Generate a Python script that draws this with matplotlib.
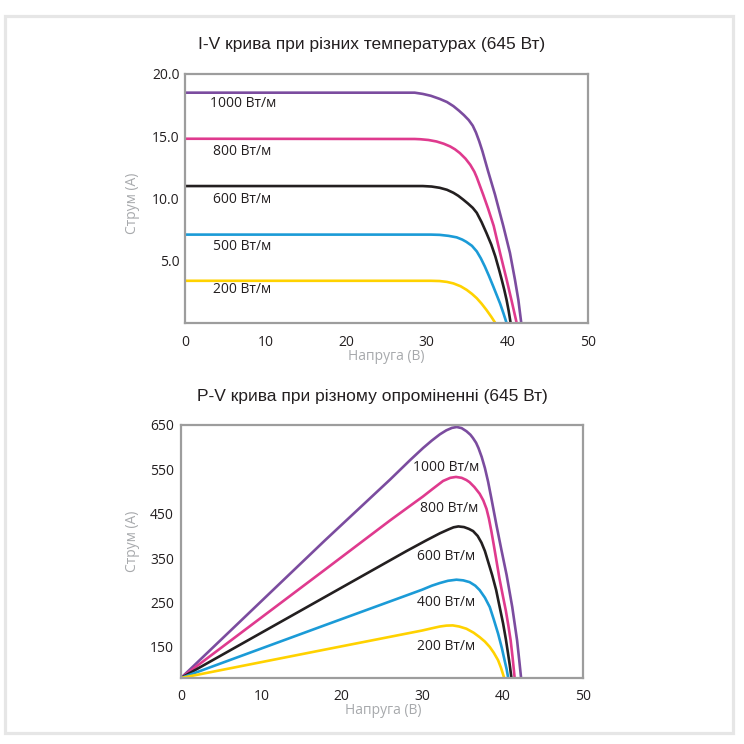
import matplotlib
matplotlib.use("Agg")
import matplotlib.pyplot as plt
from matplotlib.patches import Rectangle

# ---------------- data ----------------
iv_titles = "I-V крива при різних температурах (645 Вт)"
pv_titles = "P-V крива при різному опроміненні (645 Вт)"
x_label = "Напруга (В)"
y_label = "Струм (А)"

x_ticks = [0, 10, 20, 30, 40, 50]
iv_y_ticks = [5, 10, 15, 20]
iv_y_ticklabels = ["5.0", "10.0", "15.0", "20.0"]
pv_y_ticks = [150, 250, 350, 450, 550, 650]

iv_labels = ["1000 Вт/м", "800 Вт/м", "600 Вт/м", "500 Вт/м", "200 Вт/м"]
pv_labels = ["1000 Вт/м", "800 Вт/м", "600 Вт/м", "400 Вт/м", "200 Вт/м"]
colors = ["#7b4c9f", "#df3a8e", "#231f20", "#1b9bd7", "#ffd200"]

iv_v_1000 = [0, 28.5, 29.5, 30.5, 31.6, 32.5, 33.3, 34.0, 34.6, 35.2, 35.7, 36.1, 36.5, 36.9,
             37.6, 38.46, 39.5, 40.32, 40.94, 41.36, 41.72]
iv_i_1000 = [18.5, 18.5, 18.4, 18.25, 18.0, 17.75, 17.42, 17.05, 16.7, 16.3, 15.85, 15.3, 14.6, 13.8,
             12.2, 10.32, 7.77, 5.62, 3.47, 1.85, 0]
iv_v_800 = [0, 28.5, 29.2, 30.2, 31.2, 32.1, 32.9, 33.5, 34.1, 34.8, 35.4, 35.9, 36.2, 36.6,
            37.0, 37.6, 38.3, 39.1, 39.9, 40.5, 41.15]
iv_i_800 = [14.8, 14.78, 14.76, 14.7, 14.58, 14.4, 14.18, 13.95, 13.65, 13.2, 12.7, 12.15, 11.7, 11.0,
            10.3, 9.2, 7.8, 5.6, 3.5, 1.85, 0]
iv_v_600 = [0, 29.5, 30.6, 31.6, 32.5, 33.3, 33.9, 34.5, 35.1, 35.7, 36.2, 36.8, 37.4, 38.0,
            38.5, 39.0, 39.3, 39.6, 39.9, 40.15, 40.4]
iv_i_600 = [11.0, 11.0, 10.96, 10.86, 10.7, 10.46, 10.22, 9.92, 9.6, 9.25, 8.85, 8.1, 7.23, 6.3,
            5.35, 4.2, 3.47, 2.7, 1.85, 1.0, 0]
iv_v_500 = [0, 30.5, 31.6, 32.7, 33.7, 34.4, 34.9, 35.6, 36.2, 36.7, 37.2, 37.7, 38.25, 38.7,
            39.1, 39.5, 39.9]
iv_i_500 = [7.1, 7.1, 7.08, 7.0, 6.88, 6.7, 6.52, 6.2, 5.75, 5.2, 4.54, 3.8, 2.93, 2.2,
            1.55, 0.8, 0]
iv_v_200 = [0, 30.5, 31.6, 32.5, 33.3, 34.2, 34.95, 35.6, 36.2, 36.8, 37.4, 38.0, 38.5]
iv_i_200 = [3.39, 3.39, 3.37, 3.3, 3.18, 2.95, 2.66, 2.34, 1.99, 1.55, 1.05, 0.5, 0]

pv_v_1000 = [0, 17.9, 26.0, 28.5, 30.1, 31.2, 32.2, 33.0, 33.7, 34.3, 34.9, 35.5, 36.0, 36.3,
             36.7, 37.0, 37.4, 37.8, 38.2, 38.6, 39.24, 39.86, 40.5, 41.2, 41.8, 42.1, 42.3]
pv_p_1000 = [80, 390, 527, 571, 598, 615, 629, 638, 643.5, 645.5, 643, 636, 628, 621,
             610, 598, 578, 553, 522, 485, 424, 368, 312, 240, 165, 115, 80]
pv_v_800 = [0, 17.9, 26.0, 28.5, 30.1, 31.3, 32.6, 33.5, 34.2, 34.9, 35.5, 35.9, 36.5, 37.15,
            37.6, 38.0, 38.3, 38.6, 38.9, 39.2, 39.6, 40.0, 40.4, 40.7, 41.0, 41.25, 41.5]
pv_p_800 = [80, 324, 435, 468, 489, 506, 524, 531, 533, 531, 526, 521, 510, 495,
            480, 461, 439, 411, 380, 348, 305, 268, 232, 200, 165, 125, 80]
pv_v_600 = [0, 17.9, 28.05, 30.5, 32.2, 33.3, 33.9, 34.5, 35.2, 35.8, 36.33, 36.9, 37.37, 37.8,
            38.15, 38.7, 39.2, 39.6, 40.06, 40.4, 40.68, 40.9, 41.1]
pv_p_600 = [80, 262.5, 366, 390, 406, 415, 419.5, 421.5, 420, 416, 411, 400, 385, 366,
            345, 312, 278, 243, 203, 168, 135, 108, 80]
pv_v_400 = [0, 17.9, 30.0, 31.2, 32.2, 33.2, 34.26, 35.1, 35.9, 36.6, 37.15, 37.8, 38.4,
            38.9, 39.44, 39.9, 40.27, 40.5, 40.7]
pv_p_400 = [80, 199, 279, 288, 294, 299, 301.5, 300, 296, 288, 278, 261, 240,
            212, 180, 148, 118, 100, 80]
pv_v_200 = [0, 17.9, 30.0, 31.2, 32.2, 33.0, 33.8, 34.6, 35.5, 36.4, 37.15, 37.8, 38.4,
            38.9, 39.44, 39.8, 40.2]
pv_p_200 = [80, 144, 187, 192, 196, 198, 198.5, 196, 191, 182, 172, 162, 150,
            137, 120, 103, 80]

iv_label_x = [3.1, 3.5, 3.5, 3.5, 3.5]
iv_label_y = [17.66, 13.8, 9.92, 6.13, 2.66]
pv_label_x = [28.8, 29.7, 29.3, 29.4, 29.4]
pv_label_y = [555, 462, 353, 250, 150]

iv_series = [(iv_v_1000, iv_i_1000), (iv_v_800, iv_i_800), (iv_v_600, iv_i_600),
             (iv_v_500, iv_i_500), (iv_v_200, iv_i_200)]
pv_series = [(pv_v_1000, pv_p_1000), (pv_v_800, pv_p_800), (pv_v_600, pv_p_600),
             (pv_v_400, pv_p_400), (pv_v_200, pv_p_200)]

# ---------------- style ----------------
TICK_FONT = ["Open Sans", "DejaVu Sans"]
TITLE_FONT = ["Liberation Sans", "DejaVu Sans"]
SPINE = "#9d9d9d"
LABEL_GRAY = "#a7a9ac"

W = H = 744
fig = plt.figure(figsize=(7.44, 7.44), dpi=100)
fig.patch.set_facecolor("white")

# outer frame
fig.patches.append(Rectangle((5 / W, 1 - 733 / H), 728 / W, 717 / H, transform=fig.transFigure,
                             fill=False, edgecolor="#e6e6e6", linewidth=2.3, zorder=0))


def px_axes(l, t, r, b):
    return fig.add_axes([l / W, 1 - b / H, (r - l) / W, (b - t) / H])


def style_axes(ax, xpad, ypad):
    for s in ax.spines.values():
        s.set_color(SPINE)
        s.set_linewidth(1.6)
    ax.tick_params(length=0, labelsize=10, colors="#231f20")
    ax.tick_params(axis="x", pad=xpad)
    ax.tick_params(axis="y", pad=ypad)
    for lab in ax.get_xticklabels() + ax.get_yticklabels():
        lab.set_family(TICK_FONT)


# ---------- I-V ----------
ax1 = px_axes(185, 74, 588, 323)
for (v, i), c in zip(iv_series, colors):
    ax1.plot(v, i, color=c, lw=1.9, solid_capstyle="butt", solid_joinstyle="round")
for txt, lx, ly in zip(iv_labels, iv_label_x, iv_label_y):
    ax1.text(lx, ly, txt, fontsize=10, family=TICK_FONT, color="#231f20", va="center", ha="left")
ax1.set_xlim(0, 50)
ax1.set_ylim(0, 20)
ax1.set_xticks(x_ticks)
ax1.set_yticks(iv_y_ticks)
ax1.set_yticklabels(iv_y_ticklabels)
style_axes(ax1, 9, 4)

fig.text(372 / W, 1 - 44 / H, iv_titles, ha="center", va="center", fontsize=12.5, family=TITLE_FONT, color="#231f20")
fig.text(386 / W, 1 - 357 / H, x_label, ha="center", va="center", fontsize=10, family=TICK_FONT, color=LABEL_GRAY)
fig.text(133 / W, 1 - 203 / H, y_label, ha="center", va="center", rotation=90, fontsize=10, family=TICK_FONT, color=LABEL_GRAY)

# ---------- P-V ----------
ax2 = px_axes(181, 425, 583, 678)
for (v, p), c in zip(pv_series, colors):
    ax2.plot(v, p, color=c, lw=1.9, solid_capstyle="butt", solid_joinstyle="round")
for txt, lx, ly in zip(pv_labels, pv_label_x, pv_label_y):
    ax2.text(lx, ly, txt, fontsize=10, family=TICK_FONT, color="#231f20", va="center", ha="left")
ax2.set_xlim(0, 50)
ax2.set_ylim(80, 650)
ax2.set_xticks(x_ticks)
ax2.set_yticks(pv_y_ticks)
style_axes(ax2, 8, 5)

fig.text(372 / W, 1 - 397 / H, pv_titles, ha="center", va="center", fontsize=12.5, family=TITLE_FONT, color="#231f20")
fig.text(383 / W, 1 - 710 / H, x_label, ha="center", va="center", fontsize=10, family=TICK_FONT, color=LABEL_GRAY)
fig.text(133 / W, 1 - 541 / H, y_label, ha="center", va="center", rotation=90, fontsize=10, family=TICK_FONT, color=LABEL_GRAY)

fig.savefig("out.png", dpi=100, facecolor="white")
